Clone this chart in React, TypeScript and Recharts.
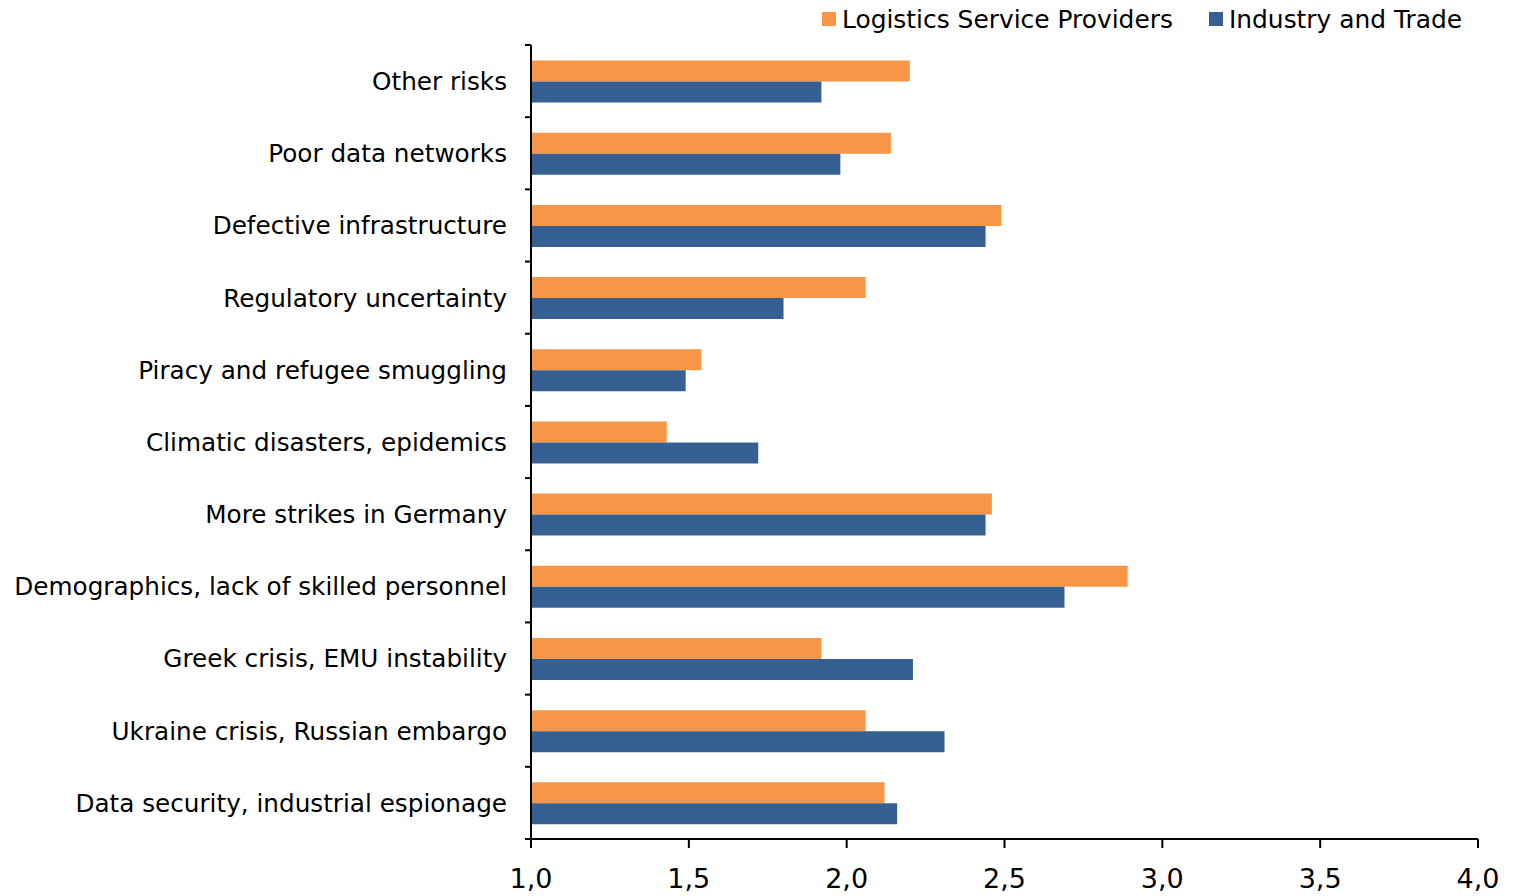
import React from "react";
import { BarChart, Bar, XAxis, YAxis, Legend } from "recharts";

// Risk categories, listed top to bottom
const categories = [
  "Other risks",
  "Poor data networks",
  "Defective infrastructure",
  "Regulatory uncertainty",
  "Piracy and refugee smuggling",
  "Climatic disasters, epidemics",
  "More strikes in Germany",
  "Demographics, lack of skilled personnel",
  "Greek crisis, EMU instability",
  "Ukraine crisis, Russian embargo",
  "Data security, industrial espionage",
];

// Average assessment per group
const logisticsValues = [2.2, 2.14, 2.49, 2.06, 1.54, 1.43, 2.46, 2.89, 1.92, 2.06, 2.12];
const industryValues = [1.92, 1.98, 2.44, 1.8, 1.49, 1.72, 2.44, 2.69, 2.21, 2.31, 2.16];

const xTicks = [1.0, 1.5, 2.0, 2.5, 3.0, 3.5, 4.0];

const seriesNames = {
  logistics: "Logistics Service Providers",
  industry: "Industry and Trade",
};

const ORANGE = "#F79646";
const BLUE = "#376092";
const FONT = "'DejaVu Sans', Verdana, sans-serif";

const WIDTH = 1513;
const HEIGHT = 896;
const MARGIN = { top: 15, right: 35, bottom: 0, left: 0 };
const LEGEND_H = 30;
const Y_AXIS_W = 531;
const X_AXIS_H = 57;
const PLOT_H = HEIGHT - MARGIN.top - LEGEND_H - X_AXIS_H;
const BAND = PLOT_H / categories.length;
const LABEL_GAP = 24;

const data = categories.map((name, i) => ({
  name,
  logistics: logisticsValues[i],
  industry: industryValues[i],
}));

const formatTick = (v: number) => v.toFixed(1).replace(".", ",");

// Category label plus boundary tick marks between categories
const CategoryTick = (props: any) => {
  const { x, y, payload, index } = props;
  const axisX = x + LABEL_GAP;
  const isLast = index === categories.length - 1;
  return (
    <g>
      <line x1={axisX - 6} x2={axisX} y1={y - BAND / 2} y2={y - BAND / 2} stroke="#000" strokeWidth={2} />
      {isLast && (
        <line x1={axisX - 6} x2={axisX} y1={y + BAND / 2} y2={y + BAND / 2} stroke="#000" strokeWidth={2} />
      )}
      <text x={x} y={y} dy="0.36em" textAnchor="end" fontSize={24.7} fontFamily={FONT} fill="#000">
        {payload.value}
      </text>
    </g>
  );
};

const LegendContent = () => {
  const items = [
    { label: seriesNames.logistics, color: ORANGE },
    { label: seriesNames.industry, color: BLUE },
  ];
  return (
    <div
      style={{
        display: "flex",
        alignItems: "center",
        height: LEGEND_H,
        fontFamily: FONT,
        fontSize: 24.9,
        color: "#000",
        whiteSpace: "nowrap",
      }}
    >
      {items.map((it, i) => (
        <div key={it.label} style={{ display: "flex", alignItems: "center", marginLeft: i === 0 ? 0 : 36 }}>
          <span style={{ display: "inline-block", width: 14, height: 14, background: it.color, marginRight: 6 }} />
          <span>{it.label}</span>
        </div>
      ))}
    </div>
  );
};

export default function App() {
  return (
    <div style={{ position: "absolute", left: 0, top: 0, background: "#fff" }}>
      <BarChart
        width={WIDTH}
        height={HEIGHT}
        data={data}
        layout="vertical"
        margin={MARGIN}
        barCategoryGap="21.5%"
        barGap={0}
      >
        <Legend
          verticalAlign="top"
          align="right"
          content={<LegendContent />}
          wrapperStyle={{ top: 4, left: 822, right: "auto", width: 690, height: LEGEND_H }}
        />
        <XAxis
          type="number"
          domain={[1, 4]}
          ticks={xTicks}
          allowDataOverflow
          height={X_AXIS_H}
          tickFormatter={formatTick}
          axisLine={{ stroke: "#000", strokeWidth: 2 }}
          tickLine={{ stroke: "#000", strokeWidth: 2 }}
          tickSize={9}
          tickMargin={21}
          tick={{ fontSize: 27, fontFamily: FONT, fill: "#000" }}
        />
        <YAxis
          type="category"
          dataKey="name"
          width={Y_AXIS_W}
          interval={0}
          axisLine={{ stroke: "#000", strokeWidth: 2 }}
          tickLine={false}
          tickSize={0}
          tickMargin={LABEL_GAP}
          tick={<CategoryTick />}
        />
        <Bar dataKey="logistics" name={seriesNames.logistics} fill={ORANGE} isAnimationActive={false} />
        <Bar dataKey="industry" name={seriesNames.industry} fill={BLUE} isAnimationActive={false} />
      </BarChart>
    </div>
  );
}
